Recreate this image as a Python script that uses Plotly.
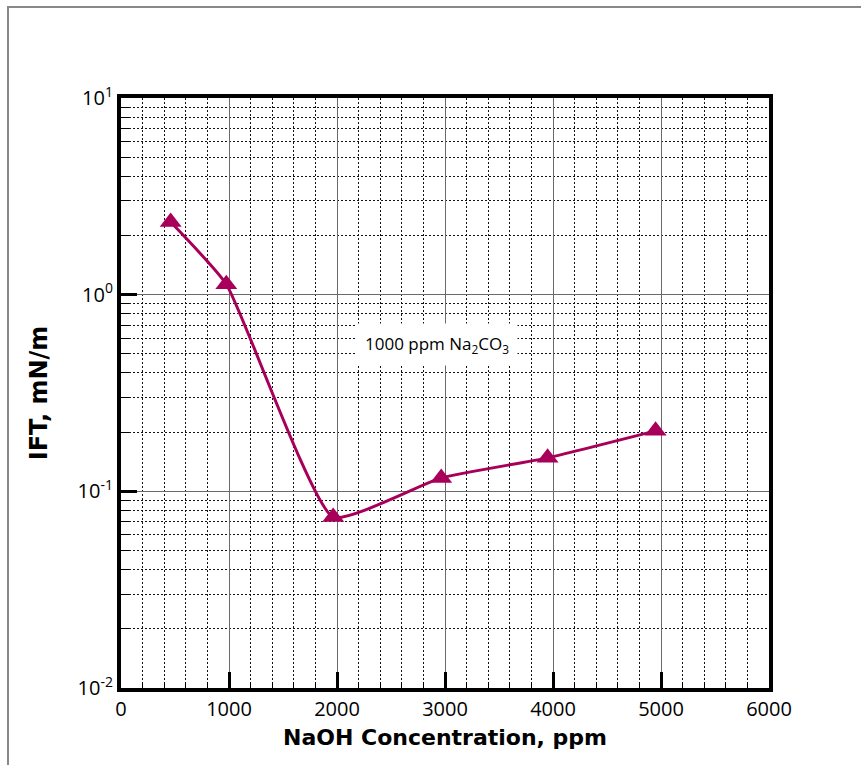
import math
import plotly.graph_objects as go

# NaOH concentration (ppm) and measured interfacial tension (mN/m)
naoh_ppm = [460, 975, 1965, 2965, 3950, 4950]
ift_mn_m = [2.34, 1.13, 0.074, 0.117, 0.148, 0.203]

y_tick_vals = [0.01, 0.1, 1, 10]
y_tick_text = ["10<sup>-2</sup>", "10<sup>-1</sup>", "10<sup>0</sup>", "10<sup>1</sup>"]

W, H = 861, 765
L, R, T, B = 121, 92, 98, 77
pw, ph = W - L - R, H - T - B

def px_x(p):
    return (p - L) / pw

def px_y(p):
    return (H - B - p) / ph

line_color = "#A8005A"
tick_font = dict(family="Open Sans, Noto Sans, sans-serif", size=20, color="black")

fig = go.Figure()
fig.add_trace(go.Scatter(
    x=naoh_ppm, y=ift_mn_m,
    mode="lines+markers",
    line=dict(color=line_color, width=3, shape="spline", smoothing=0.45),
    marker=dict(symbol="triangle-up", size=19, color=line_color),
    showlegend=False,
))

fig.add_annotation(
    x=2930, y=math.log10(0.555), xref="x", yref="y",
    text="1000 ppm Na<sub>2</sub>CO<sub>3</sub>",
    showarrow=False, bgcolor="white",
    font=dict(family="Open Sans, Noto Sans, sans-serif", size=17, color="black"),
    borderpad=8,
)

# outer frame around the figure
fig.add_shape(type="rect", xref="paper", yref="paper",
              x0=px_x(8), x1=px_x(W + 20), y0=px_y(H + 20), y1=px_y(7),
              line=dict(color="#888888", width=2), layer="below")

grid_minor = dict(showgrid=True, gridcolor="#111111", griddash="2px,2px", gridwidth=1,
                  ticks="inside", tickwidth=1, tickcolor="black")

fig.update_layout(
    width=W, height=H,
    margin=dict(l=L, r=R, t=T, b=B),
    plot_bgcolor="white", paper_bgcolor="white",
    xaxis=dict(
        range=[0, 6000], dtick=1000, tick0=0,
        showgrid=True, gridcolor="#6a6a6a", gridwidth=1,
        ticks="inside", ticklen=16, tickwidth=3, tickcolor="black",
        minor=dict(dtick=200, ticklen=6, **grid_minor),
        showline=True, linecolor="black", linewidth=4, mirror=True,
        zeroline=False,
        tickfont=tick_font,
        title=dict(text="<b>NaOH Concentration, ppm</b>", standoff=10,
                   font=dict(family="DejaVu Sans, sans-serif", size=22, color="black")),
    ),
    yaxis=dict(
        type="log", range=[-2, 1],
        tickvals=y_tick_vals, ticktext=y_tick_text,
        showgrid=True, gridcolor="#6a6a6a", gridwidth=1,
        ticks="inside", ticklen=16, tickwidth=3, tickcolor="black",
        minor=dict(dtick="D1", ticklen=8, **grid_minor),
        showline=True, linecolor="black", linewidth=4, mirror=True,
        zeroline=False,
        tickfont=tick_font,
        title=dict(text="<b>IFT, mN/m</b>", standoff=24,
                   font=dict(family="DejaVu Sans, sans-serif", size=24, color="black")),
    ),
)

fig.write_html("out.html")
